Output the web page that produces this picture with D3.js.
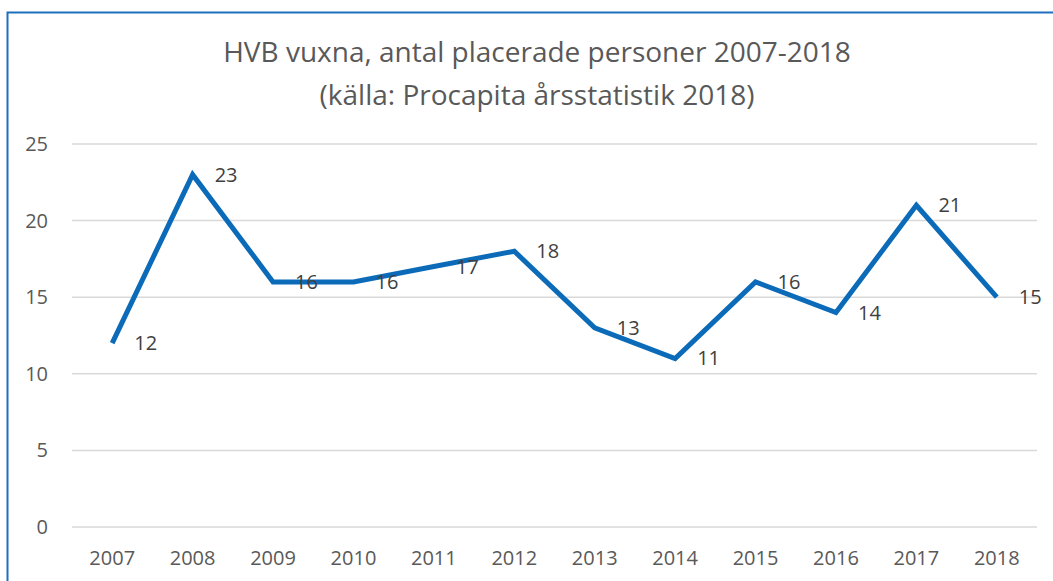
<!DOCTYPE html>
<html>
<head>
<meta charset="utf-8">
<script src="https://d3js.org/d3.v7.min.js"></script>
<style>
  body { margin: 0; background: #fff; }
  svg { display: block; }
  text { font-family: "Open Sans", sans-serif; }
</style>
</head>
<body>
<svg id="chart" width="1053" height="581"></svg>
<script>
// data
var years = ["2007","2008","2009","2010","2011","2012","2013","2014","2015","2016","2017","2018"];
var values = [12, 23, 16, 16, 17, 18, 13, 11, 16, 14, 21, 15];
var yTicks = [0, 5, 10, 15, 20, 25];
var titleLines = ["HVB vuxna, antal placerade personer 2007-2018", "(källa: Procapita årsstatistik 2018)"];

var svg = d3.select("#chart");

// outer frame (continues past right/bottom edge)
svg.append("rect")
  .attr("x", 7.5).attr("y", 12.5)
  .attr("width", 1100).attr("height", 700)
  .attr("fill", "white")
  .attr("stroke", "#1F6FBF")
  .attr("stroke-width", 2);

var plotL = 72, plotR = 1037, plotT = 144, plotB = 527;

var x = d3.scaleBand().domain(years).range([plotL, plotR]);
var y = d3.scaleLinear().domain([0, 25]).range([plotB, plotT]);

// title
svg.selectAll(".title")
  .data(titleLines)
  .join("text")
  .attr("class", "title")
  .attr("x", 537)
  .attr("y", (d, i) => 62 + i * 43)
  .attr("text-anchor", "middle")
  .attr("font-size", 28)
  .attr("fill", "#595959")
  .text(d => d);

// gridlines
svg.append("g")
  .selectAll("line")
  .data(yTicks)
  .join("line")
  .attr("x1", plotL).attr("x2", plotR)
  .attr("y1", d => y(d)).attr("y2", d => y(d))
  .attr("stroke", "#d9d9d9")
  .attr("stroke-width", 1.5);

// y axis labels
svg.append("g")
  .selectAll("text")
  .data(yTicks)
  .join("text")
  .attr("x", 48)
  .attr("y", d => y(d))
  .attr("dy", "0.35em")
  .attr("text-anchor", "end")
  .attr("font-size", 20)
  .attr("fill", "#595959")
  .text(d => d);

// x axis labels
svg.append("g")
  .selectAll("text")
  .data(years)
  .join("text")
  .attr("x", d => x(d) + x.bandwidth() / 2)
  .attr("y", 565)
  .attr("text-anchor", "middle")
  .attr("font-size", 20)
  .attr("fill", "#595959")
  .text(d => d);

var pts = years.map((d, i) => ({ year: d, v: values[i] }));

var line = d3.line()
  .x(d => x(d.year) + x.bandwidth() / 2)
  .y(d => y(d.v));

svg.append("path")
  .datum(pts)
  .attr("d", line)
  .attr("fill", "none")
  .attr("stroke", "#0B6BB8")
  .attr("stroke-width", 5)
  .attr("stroke-linejoin", "miter");

// data labels
svg.append("g")
  .selectAll("text")
  .data(pts)
  .join("text")
  .attr("x", d => x(d.year) + x.bandwidth() / 2 + 22)
  .attr("y", d => y(d.v))
  .attr("dy", "0.35em")
  .attr("font-size", 20)
  .attr("fill", "#404040")
  .text(d => d.v);
</script>
</body>
</html>
